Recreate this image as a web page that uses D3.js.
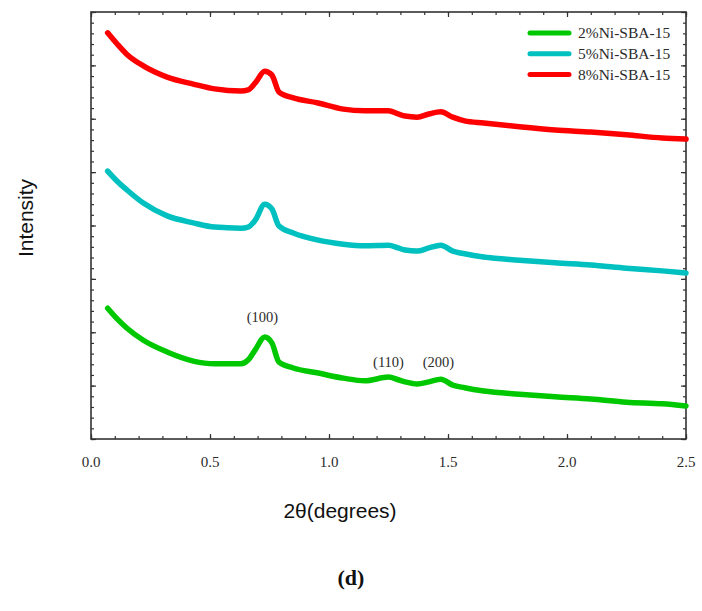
<!DOCTYPE html>
<html>
<head>
<meta charset="utf-8">
<script src="https://cdn.jsdelivr.net/npm/d3@7"></script>
<style>
  body { margin: 0; background: #fff; }
  svg text { fill: #2b2b2b; }
</style>
</head>
<body>
<div id="chart"></div>
<script>
// 2theta positions, shared by all three patterns
const twoTheta = [0.07, 0.11, 0.15, 0.22, 0.32, 0.43, 0.52, 0.63, 0.66, 0.69, 0.73, 0.76, 0.79, 0.85, 0.95, 1.06,
  1.15, 1.25, 1.29, 1.32, 1.37, 1.42, 1.47, 1.52, 1.57, 1.65, 1.8, 1.95, 2.1, 2.25, 2.4, 2.5];

// intensity, arbitrary units (curves already offset as in the figure)
const ni2 = [2.45, 2.25, 2.08, 1.85, 1.63, 1.46, 1.41, 1.41, 1.48, 1.67, 1.91, 1.80, 1.44, 1.33, 1.24, 1.14,
  1.09, 1.16, 1.11, 1.07, 1.03, 1.07, 1.12, 1.01, 0.96, 0.90, 0.84, 0.79, 0.75, 0.69, 0.66, 0.62];
const ni5 = [5.02, 4.83, 4.67, 4.42, 4.18, 4.05, 3.97, 3.95, 3.97, 4.10, 4.40, 4.31, 3.99, 3.86, 3.73, 3.65,
  3.62, 3.63, 3.58, 3.54, 3.52, 3.58, 3.63, 3.52, 3.47, 3.41, 3.35, 3.30, 3.26, 3.20, 3.15, 3.11];
const ni8 = [7.61, 7.40, 7.21, 6.99, 6.78, 6.65, 6.56, 6.52, 6.54, 6.67, 6.89, 6.82, 6.50, 6.39, 6.30, 6.18,
  6.15, 6.15, 6.09, 6.05, 6.03, 6.09, 6.13, 6.03, 5.96, 5.92, 5.85, 5.79, 5.75, 5.70, 5.64, 5.62];

const seriesNames = ["2%Ni-SBA-15", "5%Ni-SBA-15", "8%Ni-SBA-15"];
const seriesColors = ["#00c800", "#00c0c0", "#ff0000"];
const xTicks = [0, 0.5, 1.0, 1.5, 2.0, 2.5];

// peak labels: [label, 2theta, intensity] above the 2% curve
const peakLabels = [["(100)", 0.72, 2.19], ["(110)", 1.25, 1.35], ["(200)", 1.46, 1.35]];

const width = 702, height = 611;
const margin = { top: 12, right: 16, bottom: 172, left: 91 };
const w = width - margin.left - margin.right;
const h = height - margin.top - margin.bottom;

const svg = d3.select("#chart").append("svg")
  .attr("width", width)
  .attr("height", height);

const g = svg.append("g")
  .attr("transform", `translate(${margin.left},${margin.top})`);

const x = d3.scaleLinear().domain([0, 2.5]).range([0, w]);
const y = d3.scaleLinear().domain([0, 8]).range([h, 0]);

// minor + major ticks, pointing inward on all sides
const xMinor = d3.range(0, 2.5001, 0.1);
const yMinor = d3.range(0, 8.0001, 0.2);
const yMajor = d3.range(0, 9, 1);

g.append("g").attr("transform", `translate(0,${h})`)
  .call(d3.axisBottom(x).tickValues(xMinor).tickSize(-3).tickFormat(""));
g.append("g").attr("transform", `translate(0,${h})`)
  .call(d3.axisBottom(x).tickValues(xTicks).tickSize(-5).tickFormat(""));
g.append("g")
  .call(d3.axisTop(x).tickValues(xMinor).tickSize(-3).tickFormat(""));
g.append("g")
  .call(d3.axisTop(x).tickValues(xTicks).tickSize(-5).tickFormat(""));
g.append("g")
  .call(d3.axisLeft(y).tickValues(yMinor).tickSize(-3).tickFormat(""));
g.append("g")
  .call(d3.axisLeft(y).tickValues(yMajor).tickSize(-5).tickFormat(""));
g.append("g").attr("transform", `translate(${w},0)`)
  .call(d3.axisRight(y).tickValues(yMinor).tickSize(-3).tickFormat(""));
g.append("g").attr("transform", `translate(${w},0)`)
  .call(d3.axisRight(y).tickValues(yMajor).tickSize(-5).tickFormat(""));

g.selectAll(".domain").remove();
g.selectAll(".tick line").attr("stroke", "#333").attr("stroke-width", 1.2);

g.append("rect")
  .attr("width", w).attr("height", h)
  .attr("fill", "none")
  .attr("stroke", "#333")
  .attr("stroke-width", 1.6);

// x tick labels
g.selectAll(".xlab")
  .data(xTicks)
  .enter()
  .append("text")
  .attr("x", d => x(d))
  .attr("y", h + 28)
  .attr("text-anchor", "middle")
  .style("font-family", "'Liberation Serif', 'Times New Roman', serif")
  .style("font-size", "15px")
  .text(d => d.toFixed(1));

// curves
const line = d3.line()
  .x((d, i) => x(twoTheta[i]))
  .y(d => y(d))
  .curve(d3.curveMonotoneX);

[ni2, ni5, ni8].forEach((vals, k) => {
  g.append("path")
    .datum(vals)
    .attr("fill", "none")
    .attr("stroke", seriesColors[k])
    .attr("stroke-width", 5.5)
    .attr("stroke-linejoin", "round")
    .attr("stroke-linecap", "round")
    .attr("d", line);
});

// peak labels
g.selectAll(".peak")
  .data(peakLabels)
  .enter()
  .append("text")
  .attr("x", d => x(d[1]))
  .attr("y", d => y(d[2]))
  .attr("text-anchor", "middle")
  .style("font-family", "'Liberation Serif', 'Times New Roman', serif")
  .style("font-size", "14.5px")
  .text(d => d[0]);

// legend
const legend = g.append("g").attr("transform", `translate(${439},${21})`);
seriesNames.forEach((name, i) => {
  const row = legend.append("g").attr("transform", `translate(0,${i * 20.8})`);
  row.append("line")
    .attr("x1", 0).attr("x2", 39)
    .attr("stroke", seriesColors[i])
    .attr("stroke-width", 5)
    .attr("stroke-linecap", "round");
  row.append("text")
    .attr("x", 48).attr("y", 5)
    .style("font-family", "'Liberation Serif', 'Times New Roman', serif")
    .style("font-size", "15.5px")
    .text(name);
});

// axis titles
svg.append("text")
  .attr("transform", `translate(33,218) rotate(-90)`)
  .attr("text-anchor", "middle")
  .style("font-family", "'Liberation Sans', Arial, sans-serif")
  .style("font-size", "21px")
  .style("fill", "#111")
  .text("Intensity");

svg.append("text")
  .attr("x", 340).attr("y", 518)
  .attr("text-anchor", "middle")
  .style("font-family", "'Liberation Sans', Arial, sans-serif")
  .style("font-size", "21px")
  .style("fill", "#111")
  .text("2θ(degrees)");

svg.append("text")
  .attr("x", 351).attr("y", 585)
  .attr("text-anchor", "middle")
  .style("font-family", "'Liberation Serif', 'Times New Roman', serif")
  .style("font-size", "22px")
  .style("font-weight", "bold")
  .style("fill", "#111")
  .text("(d)");
</script>
</body>
</html>
